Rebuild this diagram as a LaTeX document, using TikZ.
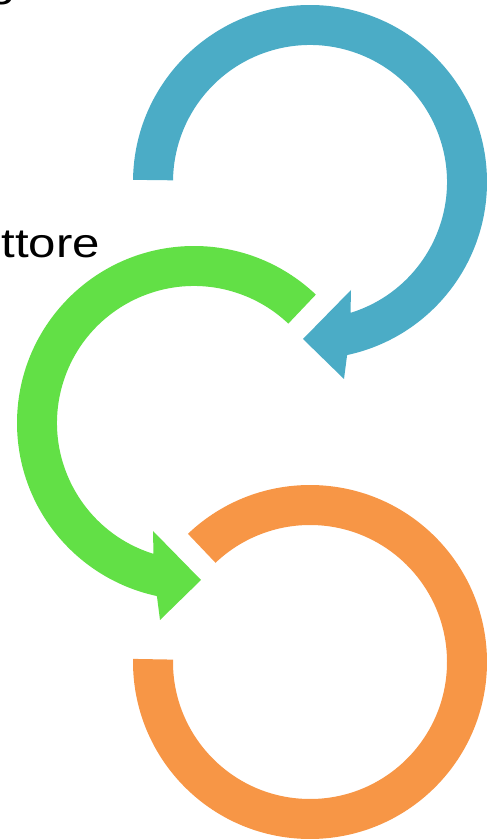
\documentclass[tikz,border=0pt]{standalone}
\usepackage{fontspec}
\setmainfont{Liberation Sans}
\definecolor{cicloblu}{HTML}{4BACC6}
\definecolor{cicloverde}{HTML}{62E046}
\definecolor{cicloarancio}{HTML}{F79646}
\begin{document}
\begin{tikzpicture}[x=1pt, y=1pt]
  % Define arrow and label style
  \tikzstyle{myfreccia} = [draw=none]
  \tikzstyle{fancylabel} = [inner sep=0pt, font=\fontsize{41}{48}\selectfont]

  \useasboundingbox (0,0) rectangle (496,840);

  \coordinate (cblu) at (310,658);
  \coordinate (cverde) at (194,417);
  \coordinate (carancio) at (310,178);

  % blue arrow, top
  \fill[myfreccia, fill=cicloblu, shift={(cblu)}]
    (179.3:177) arc[start angle=179.3, end angle=-77.9, radius=177]
    -- (34,-197) -- (-7,-157) -- (41,-108) -- (-72.8:137)
    arc[start angle=-72.8, end angle=179.3, radius=137] -- cycle;

  % green arrow, middle
  \fill[myfreccia, fill=cicloverde, shift={(cverde)}]
    (46.5:177) arc[start angle=46.5, end angle=257.9, radius=177]
    -- (-34,-197) -- (7,-157) -- (-41,-108) -- (252.8:137)
    arc[start angle=252.8, end angle=46.5, radius=137] -- cycle;

  % orange ring, bottom
  \fill[myfreccia, fill=cicloarancio, shift={(carancio)}]
    (133.6:177) arc[start angle=133.6, end angle=-181, radius=177]
    -- (-181:137)
    arc[start angle=-181, end angle=133.6, radius=137] -- cycle;

  \node[fancylabel, anchor=base east] (titolo) at (16,843) {\scalebox{1.2}[1]{g}};
  \node[fancylabel, anchor=base east] (etichetta) at (100,582) {\scalebox{1.2}[1]{ttore}};
\end{tikzpicture}
\end{document}
